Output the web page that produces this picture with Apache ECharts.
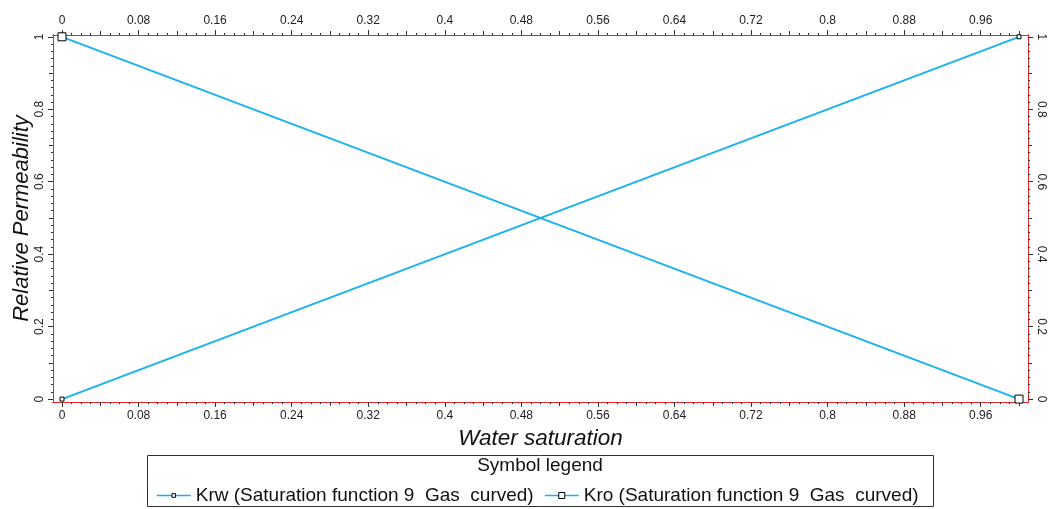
<!DOCTYPE html>
<html><head><meta charset="utf-8">
<script src="https://cdn.jsdelivr.net/npm/echarts@6/dist/echarts.min.js"></script>
<style>html,body{margin:0;padding:0;background:#fff}#c{width:1049px;height:509px}</style>
</head><body><div id="c"></div>
<script>
var xMajor = [0,0.08,0.16,0.24,0.32,0.4,0.48,0.56,0.64,0.72,0.8,0.88,0.96];
var yMajor = [0,0.2,0.4,0.6,0.8,1];
var xMid = [0.04,0.12,0.2,0.28,0.36,0.44,0.52,0.6,0.68,0.76,0.84,0.92,1];
var yMid = [0.1,0.3,0.5,0.7,0.9];
var xMinor = [];
for (var i = 0; i <= 100; i++) { xMinor.push(+(i*0.01).toFixed(2)); }
var yMinor = [];
for (var j = 0; j <= 50; j++) { yMinor.push(+(j*0.02).toFixed(2)); }
var krwX = [0, 1];
var krwY = [0, 1];
var kroX = [0, 1];
var kroY = [1, 0];
var names = ['Krw (Saturation function 9  Gas  curved)', 'Kro (Saturation function 9  Gas  curved)'];

var XMIN = -0.0094, XMAX = 1.0094, YMIN = -0.008, YMAX = 1.005;
var RED = '#e8262b', TXT = '#222', LINE = '#1ab2ec';
var font = 'Arial, "Liberation Sans", sans-serif';

function xa(pos, ticks, len, labels, extra) {
  return Object.assign({
    type: 'value', position: pos, min: XMIN, max: XMAX,
    axisLine: { show: true, onZero: false, lineStyle: { color: RED, width: 1 } },
    axisTick: { show: true, length: len, customValues: ticks, lineStyle: { color: '#333' } },
    axisLabel: labels ? { show: true, customValues: labels, color: TXT, fontSize: 12, fontFamily: font, margin: 8 } : { show: false },
    splitLine: { show: false }
  }, extra || {});
}
function ya(pos, ticks, len, labels, rot, extra) {
  return Object.assign({
    type: 'value', position: pos, min: YMIN, max: YMAX,
    axisLine: { show: true, onZero: false, lineStyle: { color: RED, width: 1 } },
    axisTick: { show: true, length: len, customValues: ticks, lineStyle: { color: '#333' } },
    axisLabel: labels ? { show: true, customValues: labels, color: TXT, fontSize: 12, fontFamily: font, margin: 7, rotate: rot } : { show: false },
    splitLine: { show: false }
  }, extra || {});
}
var legendText = { fontSize: 19, color: '#111', fontFamily: font };

var chart = echarts.init(document.getElementById('c'), null, { renderer: 'canvas' });
chart.setOption({
  animation: false,
  backgroundColor: '#fff',
  grid: { left: 53, right: 21, top: 35, bottom: 107, containLabel: false, outerBoundsMode: 'none' },
  xAxis: [
    xa('bottom', xMajor, 5, xMajor, { name: 'Water saturation', nameLocation: 'middle', nameGap: 21,
      nameTextStyle: { fontSize: 22.5, fontStyle: 'italic', color: '#111', fontFamily: font } }),
    xa('bottom', xMid, 4, null),
    xa('bottom', xMinor, 2, null),
    xa('top', xMajor, 5, xMajor),
    xa('top', xMid, 4, null),
    xa('top', xMinor, 2, null)
  ],
  yAxis: [
    ya('left', yMajor, 5, yMajor, 90, { name: 'Relative Permeability', nameLocation: 'middle', nameGap: 20, nameMoveOverlap: false,
      nameTextStyle: { fontSize: 22, fontStyle: 'italic', color: '#111', fontFamily: font } }),
    ya('left', yMid, 4, null),
    ya('left', yMinor, 2, null),
    ya('right', yMajor, 5, yMajor, -90),
    ya('right', yMid, 4, null),
    ya('right', yMinor, 2, null)
  ],
  legend: [
    { left: 156, top: 486, itemWidth: 34, itemHeight: 4.5, itemGap: 6, padding: [0,0,0,0],
      textStyle: legendText, data: [names[0]], itemStyle: { borderWidth: 1, borderColor: '#000' }, lineStyle: { width: 1.5, color: LINE } },
    { left: 544, top: 486, itemWidth: 34, itemHeight: 7.5, itemGap: 6, padding: [0,0,0,0],
      textStyle: legendText, data: [names[1]], itemStyle: { borderWidth: 1, borderColor: '#000' }, lineStyle: { width: 1.5, color: LINE } }
  ],
  graphic: [
    { type: 'rect', shape: { x: 147.5, y: 455.5, width: 786, height: 51 }, style: { fill: 'none', stroke: '#333', lineWidth: 1 }, z: 1 },
    { type: 'text', x: 540, y: 466, style: { text: 'Symbol legend', font: '19px ' + font, fill: '#111', textAlign: 'center', textVerticalAlign: 'middle' } }
  ],
  series: [
    { name: names[0], type: 'line', data: krwX.map(function (x, k) { return [x, krwY[k]]; }),
      symbol: 'rect', symbolSize: 4, showAllSymbol: true,
      lineStyle: { color: LINE, width: 2 }, itemStyle: { color: '#fff', borderColor: '#000', borderWidth: 1 }, z: 3 },
    { name: names[1], type: 'line', data: kroX.map(function (x, k) { return [x, kroY[k]]; }),
      symbol: 'rect', symbolSize: 8, showAllSymbol: true,
      lineStyle: { color: LINE, width: 2 }, itemStyle: { color: '#fff', borderColor: '#000', borderWidth: 1 }, z: 3 }
  ]
});
</script></body></html>
